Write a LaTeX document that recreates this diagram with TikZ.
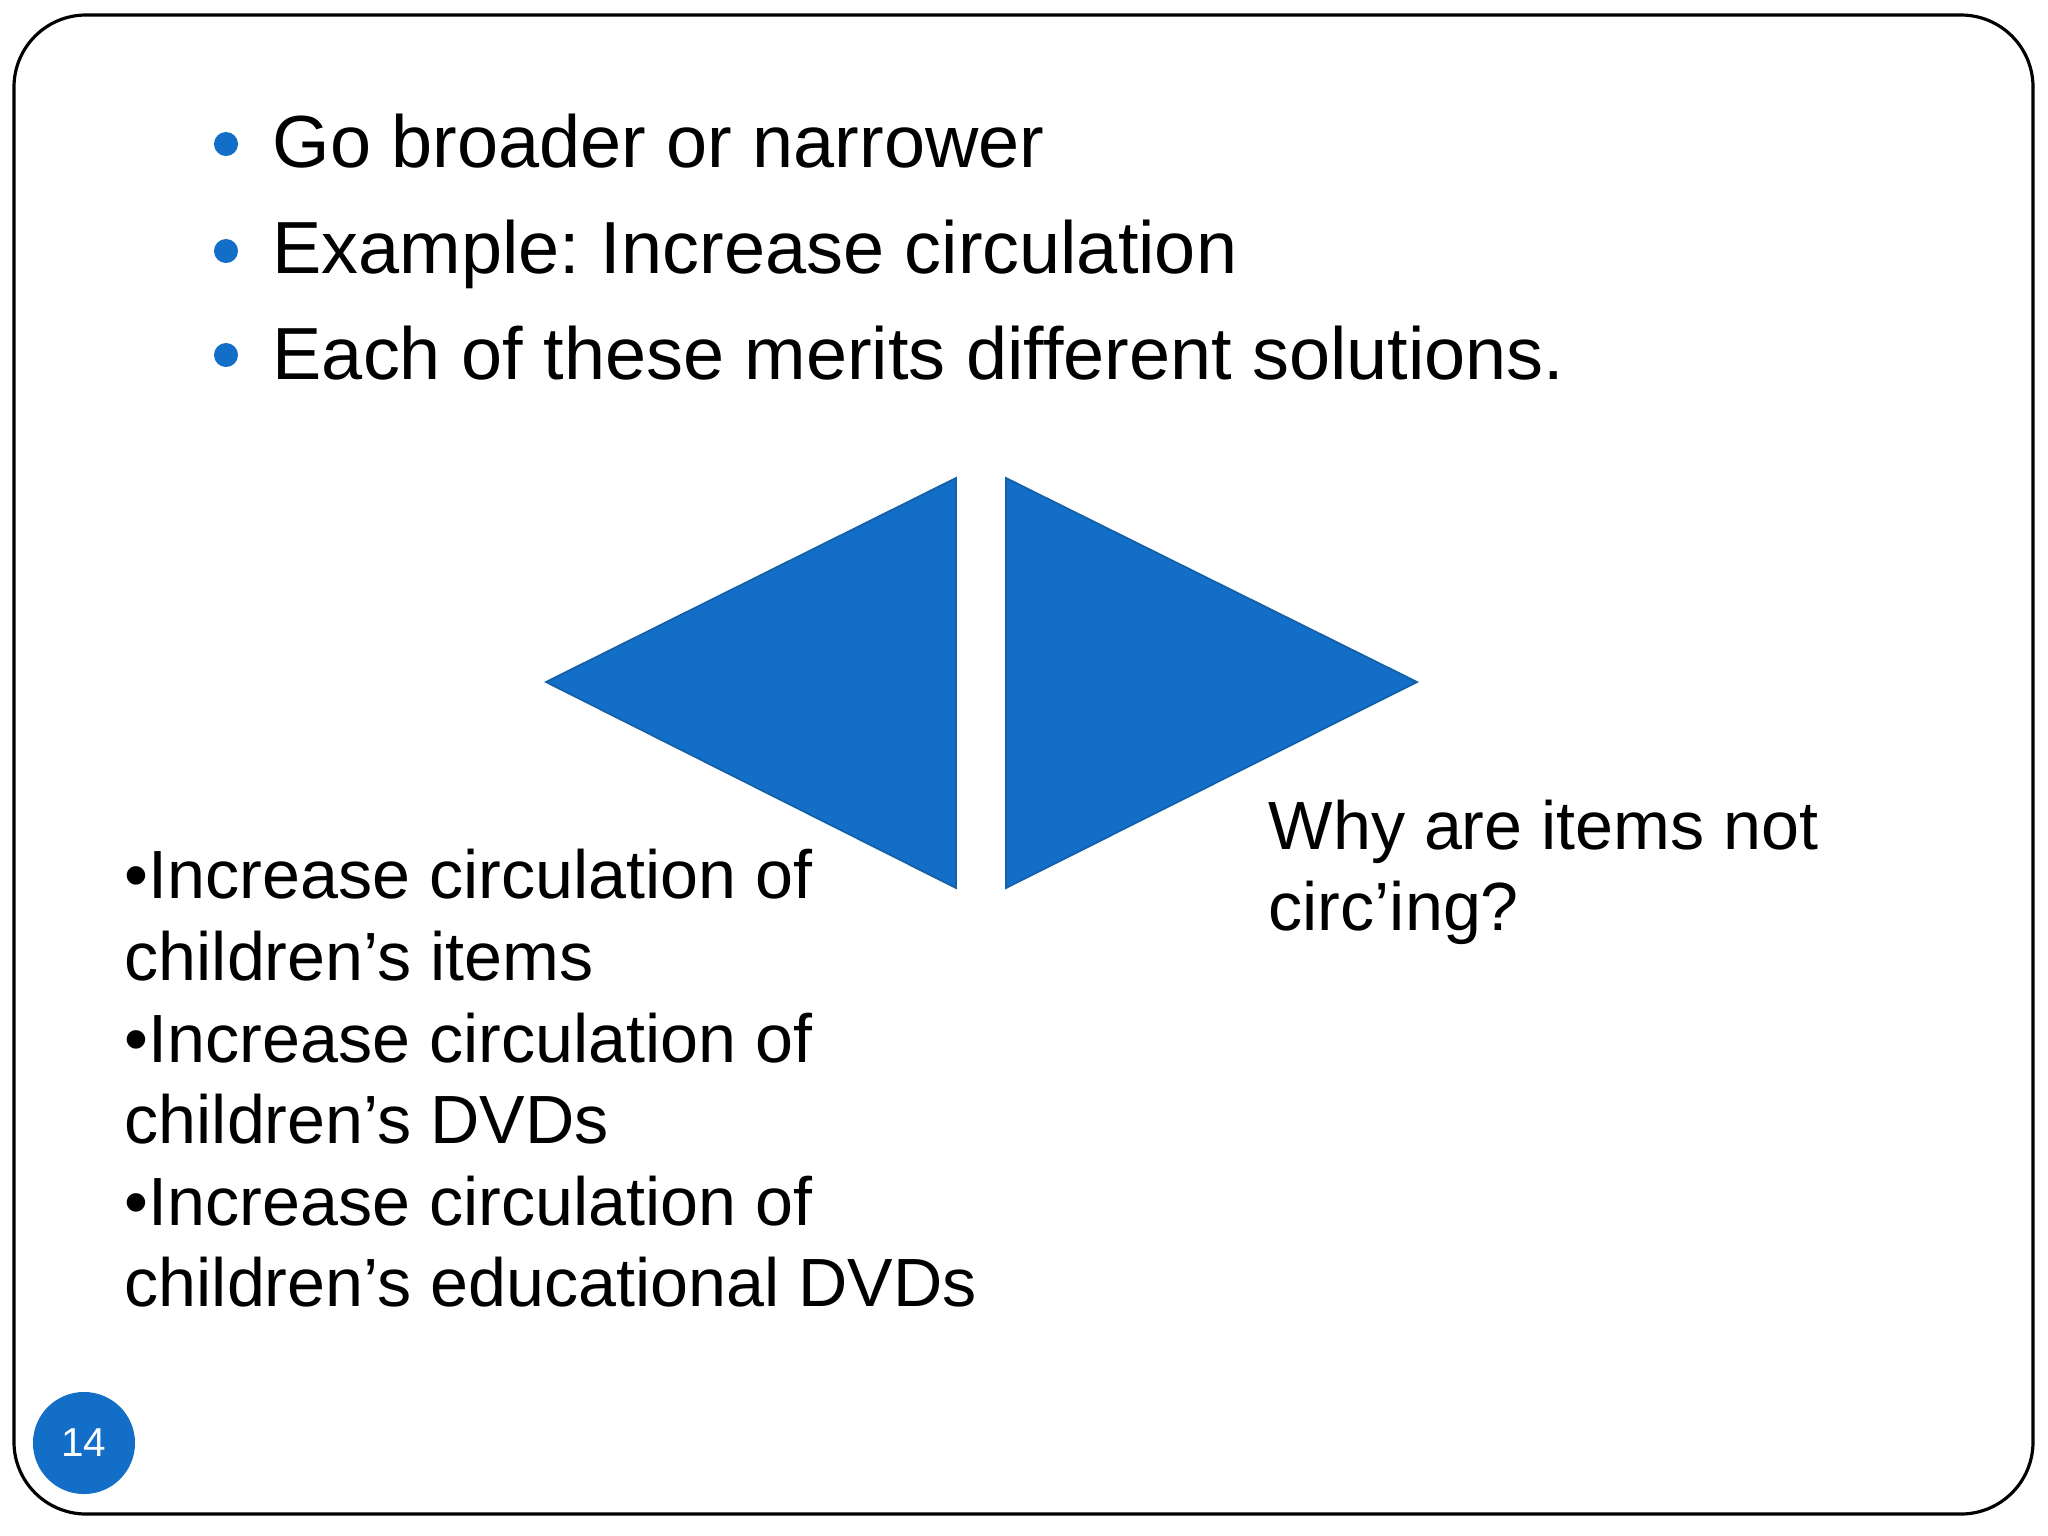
\documentclass[tikz,border=0pt]{standalone}
\usepackage{fontspec}
\setmainfont{Liberation Sans}
\frenchspacing
\definecolor{slideblue}{HTML}{126EC6}
\definecolor{triedge}{HTML}{1460A8}
\tikzset{
  bigtext/.style={anchor=base west, inner sep=0pt, font=\fontsize{21}{25}\selectfont},
  bodytext/.style={anchor=base west, inner sep=0pt, font=\fontsize{19.4}{23}\selectfont},
  bulletdot/.style={fill=slideblue},
  tri/.style={fill=slideblue, draw=triedge, line width=0.5pt, line join=miter},
}
\begin{document}
\begin{tikzpicture}[x=0.01cm,y=-0.01cm]
\useasboundingbox (0,0) rectangle (2048,1536);
\fill[white] (0,0) rectangle (2048,1536);
\draw[line width=0.9pt, rounded corners=0.72cm] (14,15) rectangle (2033,1514);

% top bullets
\fill[bulletdot] (226,144) circle[radius=0.12cm];
\fill[bulletdot] (226,251) circle[radius=0.12cm];
\fill[bulletdot] (226,355) circle[radius=0.12cm];
\node[bigtext] (b1) at (272,167) {Go broader or narrower};
\node[bigtext] (b2) at (272,273) {Example: Increase circulation};
\node[bigtext] (b3) at (272,379) {Each of these merits different solutions.};

% triangles
\filldraw[tri] (546,682) -- (956,478) -- (956,888) -- cycle;
\filldraw[tri] (1006,478) -- (1417,682) -- (1006,888) -- cycle;

% left text
\node[bodytext] (l1) at (124,898) {•Increase circulation of};
\node[bodytext] (l2) at (124,980) {children’s items};
\node[bodytext] (l3) at (124,1062) {•Increase circulation of};
\node[bodytext] (l4) at (124,1143) {children’s DVDs};
\node[bodytext] (l5) at (124,1225) {•Increase circulation of};
\node[bodytext] (l6) at (124,1306) {children’s educational DVDs};

% right text
\node[bodytext] (r1) at (1268,849) {Why are items not};
\node[bodytext] (r2) at (1268,930) {circ’ing?};

% page number
\node[circle, fill=slideblue, minimum size=1.02cm, inner sep=0pt, text=white,
      font=\fontsize{11.5}{13}\selectfont] (pg) at (84,1443) {14};
\end{tikzpicture}
\end{document}
